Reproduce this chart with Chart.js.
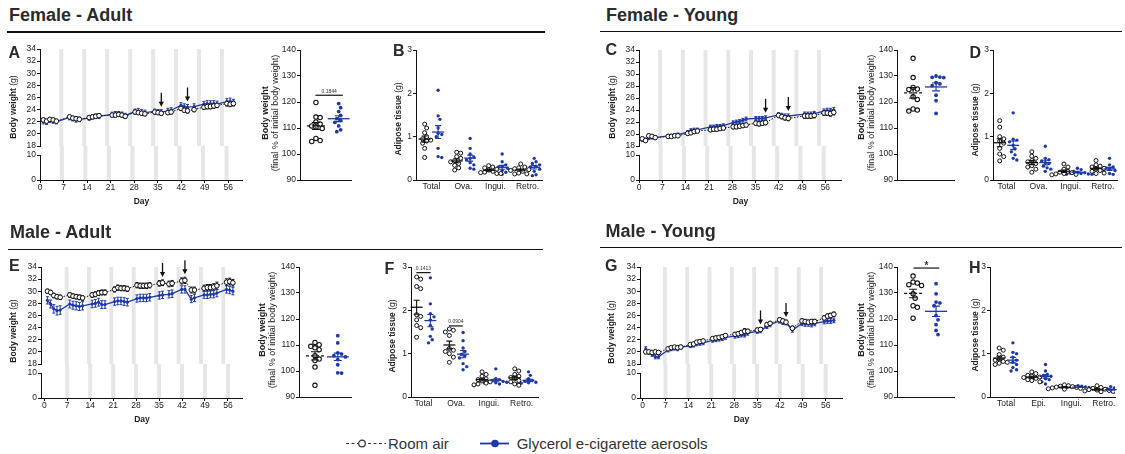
<!DOCTYPE html>
<html>
<head>
<meta charset="utf-8">
<script src="https://cdn.jsdelivr.net/npm/chart.js@4.4.1/dist/chart.umd.min.js"></script>
<style>
html, body { margin: 0; padding: 0; background: #fff; }
#fig { position: relative; width: 1125px; height: 454px; overflow: hidden; font-family: 'Liberation Sans', Arial, sans-serif; color: #222; }
#fig canvas { position: absolute; }
.t { position: absolute; white-space: nowrap; }
.vt { transform: translate(-50%, -50%) rotate(-90deg); text-align: center; }
</style>
</head>
<body>
<div id="fig"></div>
<script>
// ---------------- data ----------------
const dayTicks = [0, 7, 14, 21, 28, 35, 42, 49, 56];
const bwUpperTicks = [18, 20, 22, 24, 26, 28, 30, 32, 34];
const bwLowerTicks = [0, 10];
const pctTicks = [90, 100, 110, 120, 130, 140];
const fatTicks = [0, 1, 2, 3];

const weekendsF = [6.5, 13.5, 20.5, 27.5, 34.5, 41.5, 48.5, 55.5];
const weekendsM = [7, 14, 21, 28, 35, 42, 49, 56];

const titles = ['Female - Adult', 'Female - Young', 'Male - Adult', 'Male - Young'];
const legendNames = ['Room air', 'Glycerol e-cigarette aerosols'];
const catsF = ['Total', 'Ova.', 'Ingui.', 'Retro.'];
const catsMY = ['Total', 'Epi.', 'Ingui.', 'Retro.'];

// Female adult body weight (g)
const daysFA = [1,2,3,4,5, 9,10,11,12, 15,16,17,18, 22,23,24,25,26, 29,30,31,32, 35,36,37, 39,40, 43,44,45, 47, 50,51,52,53,54, 57,58,59];
const bwFA_room = [22.3,22.1,22.4,22.3,22.1, 22.8,22.6,22.5,22.4, 22.7,22.8,22.9,23.0, 23.1,23.1,23.2,23.1,22.9, 23.6,23.5,23.4,23.3, 23.6,23.5,23.4, 23.5,23.6, 24.2,23.9,23.8, 24.0, 24.4,24.5,24.5,24.6,24.7, 25.0,24.9,25.0];
const semFA_room = [0.28,0.3,0.27,0.3,0.29, 0.3,0.31,0.3,0.29, 0.3,0.29,0.3,0.31, 0.3,0.31,0.3,0.32,0.3, 0.32,0.31,0.3,0.32, 0.3,0.31,0.32, 0.32,0.33, 0.35,0.34,0.36, 0.35, 0.36,0.37,0.36,0.38,0.37, 0.4,0.41,0.4];
const bwFA_gly = [22.0,21.9,22.2,22.1,22.0, 22.7,22.5,22.3,22.4, 22.6,22.8,22.9,22.9, 23.2,23.3,23.3,23.2,23.0, 23.7,23.8,23.6,23.5, 23.7,23.6,23.6, 23.8,23.9, 24.7,24.5,24.4, 24.5, 24.9,25.0,25.0,25.0,24.9, 25.3,25.4,25.2];
const semFA_gly = [0.35,0.36,0.34,0.35,0.36, 0.38,0.37,0.36,0.37, 0.36,0.37,0.38,0.37, 0.38,0.39,0.38,0.4,0.39, 0.4,0.41,0.4,0.41, 0.4,0.41,0.4, 0.42,0.41, 0.45,0.46,0.45, 0.46, 0.47,0.48,0.47,0.48,0.49, 0.5,0.51,0.5];
const arrowsFA = [37, 45];

// Female young body weight (g)
const daysFY = [1,2,3,4,5, 9,10,11,12, 15,16,17,18, 22,23,24,25,26, 29,30,31,32,33, 36,37,38,39, 43,44,45,46, 51,52,53,54, 57,58,59,60];
const bwFY_room = [19.2,18.9,19.7,19.6,19.4, 19.6,19.6,19.7,19.7, 20.1,20.2,20.4,20.5, 20.7,20.8,20.8,20.9,21.0, 21.2,21.2,21.3,21.4,21.5, 21.8,21.7,21.8,21.9, 23.1,22.9,22.7,22.6, 23.0,23.0,23.0,23.1, 23.5,23.5,23.4,23.6];
const semFY_room = [0.25,0.26,0.27,0.26,0.27, 0.28,0.28,0.27,0.28, 0.3,0.29,0.3,0.31, 0.3,0.31,0.32,0.31,0.32, 0.33,0.32,0.33,0.34,0.33, 0.35,0.36,0.35,0.36, 0.38,0.37,0.38,0.39, 0.4,0.39,0.4,0.41, 0.42,0.43,0.42,0.43];
const bwFY_gly = [19.0,19.1,19.3,19.4,19.4, 19.7,19.7,19.8,19.9, 20.3,20.6,20.7,20.7, 21.2,21.2,21.3,21.3,21.4, 21.9,22.0,22.1,22.3,22.5, 22.6,22.6,22.6,22.7, 23.2,23.1,23.0,23.0, 23.3,23.3,23.3,23.4, 23.8,23.9,23.9,24.0];
const semFY_gly = [0.22,0.23,0.24,0.23,0.24, 0.25,0.26,0.25,0.26, 0.27,0.28,0.27,0.28, 0.28,0.29,0.28,0.29,0.3, 0.3,0.31,0.3,0.31,0.32, 0.32,0.33,0.32,0.33, 0.34,0.35,0.34,0.35, 0.36,0.35,0.36,0.37, 0.38,0.39,0.38,0.4];
const arrowsFY = [39, 46];

// Male adult body weight (g)
const daysMA = [1,2,3,4,5, 8,9,10,11,12, 15,16,17,18,19, 22,23,24,25,26, 29,30,31,32,33, 36,37, 39,40, 43,44, 46,47, 50,51,52,53,54, 57,58,59];
const bwMA_room = [30.0,29.8,29.3,29.1,29.0, 29.4,29.2,29.1,29.0,28.9, 29.4,29.5,29.7,29.8,29.8, 30.3,30.6,30.5,30.5,30.4, 31.0,30.9,30.9,30.9,31.0, 31.3,31.4, 31.2,31.3, 31.7,31.8, 30.2,30.2, 30.5,30.6,30.6,30.7,30.9, 31.5,31.6,31.4];
const semMA_room = [0.35,0.36,0.38,0.37,0.38, 0.38,0.39,0.38,0.4,0.39, 0.4,0.41,0.4,0.41,0.42, 0.42,0.43,0.42,0.44,0.43, 0.44,0.45,0.44,0.46,0.45, 0.46,0.47, 0.47,0.48, 0.5,0.51, 0.48,0.49, 0.5,0.52,0.51,0.55,0.6, 0.55,0.56,0.55];
const bwMA_gly = [28.5,27.9,27.1,26.8,26.9, 27.9,27.7,27.6,27.5,27.6, 27.9,28.0,28.2,27.8,27.8, 28.3,28.4,28.4,28.3,28.2, 28.8,28.9,28.9,28.9,29.0, 29.3,29.4, 29.5,29.6, 30.3,30.3, 28.7,28.9, 29.4,29.4,29.5,29.5,29.7, 30.3,30.2,30.0];
const semMA_gly = [0.6,0.65,0.7,0.72,0.7, 0.65,0.66,0.68,0.67,0.68, 0.62,0.63,0.65,0.64,0.63, 0.6,0.62,0.61,0.63,0.62, 0.6,0.61,0.6,0.62,0.61, 0.6,0.61, 0.6,0.62, 0.6,0.61, 0.58,0.6, 0.58,0.6,0.59,0.6,0.61, 0.6,0.61,0.6];
const arrowsMA = [37, 44];

// Male young body weight (g)
const daysMY = [1,2,3,4,5, 8,9,10,11,12, 15,16,17,18,19, 22,23,24,25,26, 29,30,31,32,33, 36,37, 39,40, 43,44,45, 47, 50,51,52,53,54, 57,58,59,60];
const bwMY_room = [20.0,20.0,19.9,20.0,19.9, 20.5,20.7,20.8,20.7,20.8, 21.2,21.3,21.6,21.7,21.8, 22.2,22.3,22.4,22.5,22.7, 22.9,23.0,23.2,23.4,23.4, 23.6,23.7, 24.5,24.7, 25.3,25.1,24.9, 23.9, 25.1,25.0,24.9,25.0,25.0, 25.6,25.9,26.0,26.2];
const semMY_room = [0.3,0.28,0.27,0.28,0.27, 0.25,0.26,0.25,0.26,0.25, 0.26,0.27,0.26,0.27,0.28, 0.28,0.29,0.28,0.29,0.3, 0.3,0.31,0.32,0.45,0.33, 0.32,0.33, 0.33,0.34, 0.35,0.34,0.35, 0.34, 0.35,0.36,0.35,0.36,0.37, 0.36,0.37,0.38,0.37];
const bwMY_gly = [20.5,19.9,19.6,19.2,19.2, 20.3,20.5,20.6,20.5,20.8, 21.0,21.1,21.3,21.4,21.5, 21.9,22.0,22.1,22.2,22.4, 22.6,22.7,22.8,22.8,23.1, 23.4,23.5, 24.2,24.5, 25.1,24.9,24.8, 23.6, 24.7,24.6,24.6,24.5,24.7, 25.0,25.1,25.1,25.2];
const semMY_gly = [0.35,0.33,0.34,0.35,0.34, 0.3,0.31,0.3,0.31,0.3, 0.3,0.31,0.3,0.31,0.32, 0.3,0.31,0.32,0.31,0.32, 0.33,0.34,0.33,0.34,0.35, 0.34,0.35, 0.35,0.36, 0.36,0.37,0.36, 0.35, 0.37,0.38,0.37,0.38,0.39, 0.38,0.39,0.4,0.39];
const arrowsMY = [37, 45];

// final % of initial body weight
const pctFA_room = [119.8,114.2,114.0,112.3,111.5,110.8,110.3,109.8,106.0,105.2,104.8];
const pctFA_gly = [119.4,117.8,116.3,114.8,113.6,112.9,112.2,110.8,109.3,108.6];
const pctFY_room = [136.8,129.4,125.6,125.0,124.8,122.0,121.0,117.3,116.9,116.5];
const pctFY_gly = [130.0,129.6,129.5,129.4,127.4,127.0,126.3,122.6,120.5,115.6];
const pctMA_room = [111.0,110.1,109.5,108.9,108.2,105.9,104.6,104.0,101.5,94.5];
const pctMA_gly = [113.6,110.8,107.0,106.5,105.9,105.4,104.4,102.4,99.3,99.2];
const pctMY_room = [136.5,134.2,133.8,133.2,132.9,129.7,128.0,125.1,124.5,120.3];
const pctMY_gly = [133.6,129.7,126.5,126.2,125.1,121.3,119.7,117.8,115.6,114.0];

// adipose tissue (g), one list per category
const fatFA_room = [[1.29,1.2,1.09,1.0,0.95,0.92,0.9,0.85,0.73,0.52],[0.64,0.62,0.54,0.5,0.45,0.42,0.38,0.34,0.28,0.23],[0.33,0.3,0.28,0.25,0.23,0.2,0.18,0.17,0.15,0.15],[0.37,0.3,0.28,0.26,0.24,0.22,0.2,0.16,0.14,0.14]];
const fatFA_gly = [[2.07,1.48,1.4,1.2,1.08,1.05,1.0,0.73,0.54,0.52],[0.96,0.73,0.6,0.53,0.5,0.46,0.4,0.35,0.27,0.25],[0.6,0.42,0.35,0.31,0.3,0.27,0.22,0.18,0.15,0.13],[0.5,0.42,0.38,0.35,0.32,0.3,0.25,0.2,0.12,0.1]];
const fatFY_room = [[1.37,1.22,1.0,0.95,0.9,0.85,0.73,0.6,0.54,0.44],[0.65,0.55,0.5,0.45,0.42,0.38,0.33,0.3,0.25,0.18],[0.37,0.3,0.25,0.2,0.18,0.17,0.15,0.14,0.13,0.12],[0.45,0.35,0.32,0.3,0.27,0.25,0.22,0.2,0.16,0.15]];
const fatFY_gly = [[1.55,0.94,0.92,0.88,0.8,0.72,0.65,0.58,0.5,0.46],[0.78,0.5,0.47,0.44,0.4,0.38,0.32,0.28,0.25,0.2],[0.27,0.24,0.2,0.18,0.17,0.16,0.15,0.14,0.13,0.13],[0.5,0.35,0.3,0.28,0.25,0.22,0.2,0.18,0.15,0.13]];
const fatMA_room = [[2.77,2.72,2.55,2.5,1.9,1.86,1.78,1.65,1.6,1.38],[1.57,1.54,1.5,1.42,1.12,1.08,1.05,1.0,0.92,0.8],[0.58,0.52,0.48,0.42,0.4,0.37,0.35,0.32,0.3,0.28],[0.65,0.6,0.52,0.48,0.45,0.42,0.38,0.35,0.3,0.27]];
const fatMA_gly = [[2.75,2.15,1.92,1.85,1.78,1.65,1.57,1.4,1.32,1.25],[1.49,1.3,1.13,1.05,0.98,0.95,0.9,0.77,0.7,0.63],[0.65,0.42,0.4,0.38,0.36,0.35,0.34,0.33,0.32,0.3],[0.58,0.5,0.42,0.38,0.36,0.34,0.33,0.32,0.3,0.3]];
const fatMY_room = [[1.13,1.08,0.98,0.92,0.88,0.85,0.82,0.8,0.78,0.75],[0.58,0.54,0.5,0.48,0.46,0.45,0.43,0.4,0.38,0.35],[0.28,0.26,0.25,0.24,0.23,0.22,0.21,0.2,0.19,0.18],[0.26,0.22,0.2,0.18,0.17,0.16,0.15,0.14,0.13,0.12]];
const fatMY_gly = [[1.25,1.03,1.0,0.92,0.85,0.8,0.75,0.68,0.63,0.6],[0.75,0.6,0.52,0.5,0.48,0.45,0.42,0.4,0.35,0.3],[0.26,0.25,0.24,0.23,0.23,0.22,0.22,0.21,0.2,0.19],[0.24,0.21,0.19,0.18,0.17,0.16,0.15,0.14,0.13,0.12]];

// comparisons shown above groups (x in axis units, y in data units)
const sigFA = [{ x1: 0.98, x2: 2.18, y: 122.6, t: '0.1844' }];
const sigMA_fat = [{ x1: 0.78, x2: 1.22, y: 2.87, t: '0.1413' }, { x1: 1.78, x2: 2.2, y: 1.64, t: '0.0904' }];
const sigMY = [{ x1: 1.02, x2: 2.14, y: 139.6, t: '*' }];

// ---------------- setup ----------------
const FONT = "'Liberation Sans', Arial, Helvetica, sans-serif";
const BLUE = '#1f38a8';
const INK = '#111';
Chart.defaults.font.family = FONT;
Chart.defaults.font.size = 8.5;
Chart.defaults.color = '#222';
Chart.defaults.animation = false;
Chart.defaults.responsive = false;
Chart.defaults.plugins.legend.display = false;
Chart.defaults.plugins.tooltip.enabled = false;

const fig = document.getElementById('fig');

function canvasAt(L, T, W, H) {
  const c = document.createElement('canvas');
  c.width = W; c.height = H;
  c.style.left = L + 'px'; c.style.top = T + 'px';
  c.style.width = W + 'px'; c.style.height = H + 'px';
  fig.appendChild(c);
  return c;
}

function yAxis(min, max, ticks, w) {
  return {
    type: 'linear', position: 'left', min: min, max: max,
    afterBuildTicks: s => { s.ticks = ticks.map(v => ({ value: v })); },
    afterFit: s => { s.width = w; },
    grid: { drawOnChartArea: false, drawTicks: true, tickLength: 3, color: INK, lineWidth: 1 },
    border: { display: true, color: INK, width: 1 },
    ticks: { autoSkip: false, padding: 1 }
  };
}

// weekend shading; extendUp lets the lower panel fill the axis break
function bandsPlugin(centers, extendUp) {
  return {
    id: 'bands',
    beforeDatasetsDraw(chart) {
      const { ctx, chartArea: a, scales: { x } } = chart;
      ctx.save();
      ctx.fillStyle = '#e6e6e6';
      centers.forEach(c => {
        const x0 = x.getPixelForValue(c - 0.6), x1 = x.getPixelForValue(c + 0.6);
        ctx.fillRect(x0, a.top - extendUp, x1 - x0, a.bottom - a.top + extendUp);
      });
      ctx.restore();
    }
  };
}

// SEM bars for the time course
const timeErr = {
  id: 'timeErr',
  beforeDatasetsDraw(chart) {
    const { ctx, scales: { y } } = chart;
    chart.data.datasets.forEach((ds, i) => {
      const meta = chart.getDatasetMeta(i);
      ctx.save();
      ctx.strokeStyle = ds.borderColor;
      ctx.lineWidth = 1;
      meta.data.forEach((pt, j) => {
        const s = ds.sem[j];
        if (s === undefined) return;
        const v = ds.data[j].y;
        const y0 = y.getPixelForValue(v - s), y1 = y.getPixelForValue(v + s);
        ctx.beginPath();
        ctx.moveTo(pt.x, y0); ctx.lineTo(pt.x, y1);
        ctx.moveTo(pt.x - 1.5, y0); ctx.lineTo(pt.x + 1.5, y0);
        ctx.moveTo(pt.x - 1.5, y1); ctx.lineTo(pt.x + 1.5, y1);
        ctx.stroke();
      });
      ctx.restore();
    });
  }
};

function arrowPlugin(days, room, roomSem, gly, glySem, arrowDays) {
  return {
    id: 'arrows',
    afterDatasetsDraw(chart) {
      const { ctx, scales: { x, y } } = chart;
      ctx.save();
      ctx.strokeStyle = INK; ctx.fillStyle = INK; ctx.lineWidth = 1.3;
      arrowDays.forEach(d => {
        let best = 0;
        days.forEach((dd, i) => { if (Math.abs(dd - d) < Math.abs(days[best] - d)) best = i; });
        const top = Math.max(room[best] + roomSem[best], gly[best] + glySem[best]);
        const px = x.getPixelForValue(d);
        const tip = y.getPixelForValue(top) - 3;
        ctx.beginPath(); ctx.moveTo(px, tip - 14); ctx.lineTo(px, tip - 3); ctx.stroke();
        ctx.beginPath(); ctx.moveTo(px - 2.6, tip - 5); ctx.lineTo(px + 2.6, tip - 5); ctx.lineTo(px, tip); ctx.closePath(); ctx.fill();
      });
      ctx.restore();
    }
  };
}

// mean +/- SEM for dot plots
const meanSem = {
  id: 'meanSem',
  afterDatasetsDraw(chart) {
    const { ctx, scales: { x, y } } = chart;
    chart.data.datasets.forEach(ds => {
      (ds.groups || []).forEach(g => {
        const n = g.v.length;
        const m = g.v.reduce((a, b) => a + b, 0) / n;
        const sd = Math.sqrt(g.v.reduce((a, b) => a + (b - m) * (b - m), 0) / (n - 1));
        const se = sd / Math.sqrt(n);
        const cx = x.getPixelForValue(g.c);
        const ym = y.getPixelForValue(m), y0 = y.getPixelForValue(m - se), y1 = y.getPixelForValue(m + se);
        ctx.save();
        ctx.strokeStyle = ds.statColor; ctx.lineWidth = 1.1;
        ctx.beginPath();
        ctx.moveTo(cx, y0); ctx.lineTo(cx, y1);
        ctx.moveTo(cx - ds.capW, y0); ctx.lineTo(cx + ds.capW, y0);
        ctx.moveTo(cx - ds.capW, y1); ctx.lineTo(cx + ds.capW, y1);
        ctx.stroke();
        ctx.setLineDash(ds.meanDash); ctx.lineWidth = 1.3;
        ctx.beginPath(); ctx.moveTo(cx - ds.meanW, ym); ctx.lineTo(cx + ds.meanW, ym); ctx.stroke();
        ctx.restore();
      });
    });
  }
};

function sigPlugin(list) {
  return {
    id: 'sig',
    afterDatasetsDraw(chart) {
      const { ctx, scales: { x, y } } = chart;
      list.forEach(s => {
        const x1 = x.getPixelForValue(s.x1), x2 = x.getPixelForValue(s.x2), yy = y.getPixelForValue(s.y);
        ctx.save();
        ctx.strokeStyle = INK; ctx.lineWidth = 1.2;
        ctx.beginPath(); ctx.moveTo(x1, yy); ctx.lineTo(x2, yy); ctx.stroke();
        ctx.fillStyle = '#333'; ctx.textAlign = 'center'; ctx.textBaseline = 'alphabetic';
        if (s.t === '*') { ctx.font = 'bold 10px ' + FONT; ctx.fillText(s.t, (x1 + x2) / 2, yy + 1); }
        else { ctx.font = '5px ' + FONT; ctx.fillText(s.t, (x1 + x2) / 2, yy - 2.5); }
        ctx.restore();
      });
    }
  };
}

// spread equal values sideways so the dots do not overlap
function swarm(values, center, pxX, pxY, gap) {
  const order = values.map((v, i) => i).sort((a, b) => values[b] - values[a]);
  const placed = [];
  const out = [];
  order.forEach(i => {
    const yp = values[i] * pxY;
    for (let k = 0; k < 60; k++) {
      const off = (k % 2 ? 1 : -1) * Math.ceil(k / 2) * gap * 0.5;
      if (placed.every(p => Math.hypot(p.x - off, p.y - yp) >= gap)) {
        placed.push({ x: off, y: yp });
        out.push({ x: center + off / pxX, y: values[i] });
        break;
      }
    }
  });
  return out;
}

// ---------------- chart builders ----------------
function bwChart(g, days, room, roomSem, gly, glySem, arrowDays, weekends) {
  const WY = 30;
  const L = g.axis - WY, W = g.right - L;
  const T1 = g.upTop - 8, H1 = g.upBot + 8 - T1;
  const ds = [
    { data: days.map((d, i) => ({ x: d, y: room[i] })), sem: roomSem, order: 0,
      borderColor: INK, borderWidth: 1, borderDash: [1.5, 1.5],
      pointRadius: 2.3, pointBorderWidth: 1, pointBorderColor: INK, pointBackgroundColor: '#fff' },
    { data: days.map((d, i) => ({ x: d, y: gly[i] })), sem: glySem, order: 1,
      borderColor: BLUE, borderWidth: 1.3,
      pointRadius: 1.6, pointBorderWidth: 0, pointBorderColor: BLUE, pointBackgroundColor: BLUE }
  ];
  new Chart(canvasAt(L, T1, W, H1), {
    type: 'line',
    data: { datasets: ds },
    options: {
      layout: { padding: { top: 8, bottom: 8, left: 0, right: 0 } },
      scales: {
        x: { type: 'linear', display: false, min: g.xmin, max: g.xmax },
        y: yAxis(18, 34, bwUpperTicks, WY)
      }
    },
    plugins: [bandsPlugin(weekends, 0), timeErr, arrowPlugin(days, room, roomSem, gly, glySem, arrowDays)]
  });

  const gap = g.loTop - g.upBot;
  const T2 = g.loTop - 12, H2 = g.loBot + 32 - T2;
  new Chart(canvasAt(L, T2, W, H2), {
    type: 'line',
    data: { datasets: [] },
    options: {
      layout: { padding: { top: 12, bottom: 0, left: 0, right: 0 } },
      scales: {
        x: {
          type: 'linear', min: g.xmin, max: g.xmax,
          afterBuildTicks: s => { s.ticks = dayTicks.map(v => ({ value: v })); },
          afterFit: s => { s.height = 32; },
          grid: { drawOnChartArea: false, drawTicks: true, tickLength: 3, color: INK },
          border: { display: true, color: INK, width: 1 },
          ticks: { autoSkip: false, maxRotation: 0, padding: 0 },
          title: { display: true, text: 'Day', font: { weight: 'bold', size: 8.5 }, padding: { top: 0, bottom: 5 } }
        },
        y: yAxis(0, 10, bwLowerTicks, WY)
      }
    },
    plugins: [bandsPlugin(weekends, gap)]
  });
}

function pctChart(g, room, gly, sig) {
  const WY = 30, PT = 8, PB = 8, XH = 2;
  const L = g.axis - WY, T = g.top - PT, W = g.right - L, H = g.bottom + XH + PB - T;
  const unit = 25, xmin = 0.3, xmax = xmin + (g.right - g.axis) / unit;
  const pxY = (g.bottom - g.top) / 50;
  const ds = [
    { data: swarm(room, 1, unit, pxY, 4.6), groups: [{ c: 1, v: room }], order: 0,
      statColor: INK, meanW: 9, capW: 4, meanDash: [3, 2],
      pointRadius: 2.2, pointBorderWidth: 1.1, pointBorderColor: INK, pointBackgroundColor: '#fff' },
    { data: swarm(gly, 2, unit, pxY, 4.2), groups: [{ c: 2, v: gly }], order: 1,
      statColor: BLUE, meanW: 11, capW: 4, meanDash: [],
      pointRadius: 1.9, pointBorderWidth: 0, pointBorderColor: BLUE, pointBackgroundColor: BLUE }
  ];
  new Chart(canvasAt(L, T, W, H), {
    type: 'scatter',
    data: { datasets: ds },
    options: {
      layout: { padding: { top: PT, bottom: PB, left: 0, right: 0 } },
      scales: {
        x: { type: 'linear', min: xmin, max: xmax, afterFit: s => { s.height = XH; },
             grid: { display: false }, border: { display: true, color: INK, width: 1 }, ticks: { display: false } },
        y: yAxis(90, 140, pctTicks, WY)
      }
    },
    plugins: [meanSem, sigPlugin(sig)]
  });
}

function fatChart(g, cats, room, gly, sig) {
  const WY = 14, PT = 8, XH = 14;
  const L = g.axis - WY, T = g.top - PT, W = g.right - L, H = g.bottom + XH - T;
  const xmin = 1 - g.first / g.sp, xmax = xmin + (g.right - g.axis) / g.sp;
  const pxY = (g.bottom - g.top) / 3;
  const off = 0.21;
  let roomPts = [], glyPts = [];
  room.forEach((v, k) => { roomPts = roomPts.concat(swarm(v, k + 1 - off, g.sp, pxY, 4.2)); });
  gly.forEach((v, k) => { glyPts = glyPts.concat(swarm(v, k + 1 + off, g.sp, pxY, 3.8)); });
  const ds = [
    { data: roomPts, groups: room.map((v, k) => ({ c: k + 1 - off, v: v })), order: 0,
      statColor: INK, meanW: 6, capW: 3, meanDash: [],
      pointRadius: 2, pointBorderWidth: 1, pointBorderColor: INK, pointBackgroundColor: '#fff' },
    { data: glyPts, groups: gly.map((v, k) => ({ c: k + 1 + off, v: v })), order: 1,
      statColor: BLUE, meanW: 6, capW: 3, meanDash: [],
      pointRadius: 1.7, pointBorderWidth: 0, pointBorderColor: BLUE, pointBackgroundColor: BLUE }
  ];
  new Chart(canvasAt(L, T, W, H), {
    type: 'scatter',
    data: { datasets: ds },
    options: {
      layout: { padding: { top: PT, bottom: 0, left: 0, right: 0 } },
      scales: {
        x: {
          type: 'linear', min: xmin, max: xmax,
          afterBuildTicks: s => { s.ticks = cats.map((c, i) => ({ value: i + 1 })); },
          afterFit: s => { s.height = XH; },
          grid: { drawOnChartArea: false, drawTicks: false },
          border: { display: true, color: INK, width: 1 },
          ticks: { autoSkip: false, maxRotation: 0, padding: 2, callback: v => cats[Math.round(v) - 1] }
        },
        y: yAxis(0, 3, fatTicks, WY)
      }
    },
    plugins: [meanSem, sigPlugin(sig)]
  });
}

// ---------------- layout ----------------
bwChart({ axis: 40, right: 243, upTop: 49, upBot: 146, loTop: 155, loBot: 180, xmin: 0, xmax: 60.4 },
        daysFA, bwFA_room, semFA_room, bwFA_gly, semFA_gly, arrowsFA, weekendsF);
bwChart({ axis: 639, right: 842, upTop: 50, upBot: 146, loTop: 155, loBot: 180, xmin: 0, xmax: 61 },
        daysFY, bwFY_room, semFY_room, bwFY_gly, semFY_gly, arrowsFY, weekendsF);
bwChart({ axis: 41, right: 243, upTop: 267, upBot: 364, loTop: 373, loBot: 398, xmin: -1, xmax: 60.6 },
        daysMA, bwMA_room, semMA_room, bwMA_gly, semMA_gly, arrowsMA, weekendsM);
bwChart({ axis: 640, right: 843, upTop: 267, upBot: 364, loTop: 373, loBot: 398, xmin: -0.8, xmax: 61.3 },
        daysMY, bwMY_room, semMY_room, bwMY_gly, semMY_gly, arrowsMY, weekendsM);

pctChart({ axis: 300, right: 357, top: 50, bottom: 180 }, pctFA_room, pctFA_gly, sigFA);
pctChart({ axis: 897, right: 960, top: 50, bottom: 180 }, pctFY_room, pctFY_gly, []);
pctChart({ axis: 299, right: 357, top: 267, bottom: 397 }, pctMA_room, pctMA_gly, []);
pctChart({ axis: 897, right: 960, top: 267, bottom: 397 }, pctMY_room, pctMY_gly, sigMY);

fatChart({ axis: 416, right: 547, top: 50, bottom: 180, sp: 33.3, first: 16 }, catsF, fatFA_room, fatFA_gly, []);
fatChart({ axis: 993, right: 1122, top: 50, bottom: 180, sp: 33.4, first: 14 }, catsF, fatFY_room, fatFY_gly, []);
fatChart({ axis: 411, right: 543, top: 267, bottom: 397, sp: 34, first: 13 }, catsF, fatMA_room, fatMA_gly, sigMA_fat);
fatChart({ axis: 990, right: 1120, top: 267, bottom: 397, sp: 33.9, first: 16.7 }, catsMY, fatMY_room, fatMY_gly, []);

// ---------------- text overlays ----------------
function put(x, y, html, css) {
  const d = document.createElement('div');
  d.className = 't';
  d.style.cssText = 'left:' + x + 'px;top:' + y + 'px;' + (css || '');
  d.innerHTML = html;
  fig.appendChild(d);
  return d;
}
function putV(cx, cy, html, css) {
  put(cx, cy, html, css).classList.add('vt');
}
function rule(x1, x2, y) {
  put(x1, y, '', 'width:' + (x2 - x1) + 'px;height:1.5px;background:#111;');
}

const titleCss = 'font:bold 18px/18px ' + FONT + ';color:#2b2b2b;';
put(9, 5.5, titles[0], titleCss);
put(606, 6, titles[1], titleCss);
put(10, 222.7, titles[2], titleCss);
put(605.5, 222, titles[3], titleCss);
rule(7, 545, 31);
rule(600, 1122, 30.5);
rule(8, 543, 248.5);
rule(600, 1122, 246.5);

const letterCss = 'font:bold 16px/16px ' + FONT + ';color:#2b2b2b;';
[['A', 8.5, 44.6], ['B', 393, 43], ['C', 605.5, 41.5], ['D', 969.5, 44.5],
 ['E', 9, 258], ['F', 384.5, 261], ['G', 605, 258], ['H', 969, 259.6]]
  .forEach(l => put(l[1], l[2], l[0], letterCss));

const bwTitle = '<b>Body weight</b> (g)';
const pctTitle = '<b>Body weight</b><br>(final % of initial body weight)';
const fatTitle = '<b>Adipose tissue</b> (g)';
const axCss = 'font:8.5px/10px ' + FONT + ';color:#222;';
const pctCss = 'font:9px/10px ' + FONT + ';color:#222;';
putV(12.5, 107, bwTitle, axCss);
putV(611.5, 107, bwTitle, axCss);
putV(13, 331, bwTitle, axCss);
putV(611, 332, bwTitle, axCss);
putV(270, 113, pctTitle, pctCss);
putV(866, 113, pctTitle, pctCss);
putV(267, 330, pctTitle, pctCss);
putV(866, 330, pctTitle, pctCss);
putV(398, 119, fatTitle, axCss);
putV(975, 120, fatTitle, axCss);
putV(392, 336, fatTitle, axCss);
putV(975, 335, fatTitle, axCss);

// legend
const legCss = 'font:15px/15px ' + FONT + ';color:#333;';
put(345, 437, '<svg width="42" height="13"><line x1="1" y1="6.5" x2="41" y2="6.5" stroke="#333" stroke-width="1.2" stroke-dasharray="3,2.5"/>' +
  '<circle cx="17" cy="6.5" r="3.3" fill="#fff" stroke="#333" stroke-width="1.2"/></svg>', 'line-height:0;');
put(388, 435.6, legendNames[0], legCss);
put(479, 437, '<svg width="31" height="13"><line x1="1" y1="6.5" x2="30" y2="6.5" stroke="' + BLUE + '" stroke-width="1.8"/>' +
  '<circle cx="16" cy="6.5" r="3.8" fill="' + BLUE + '"/></svg>', 'line-height:0;');
put(516.7, 435.6, legendNames[1], legCss);
</script>
</body>
</html>
